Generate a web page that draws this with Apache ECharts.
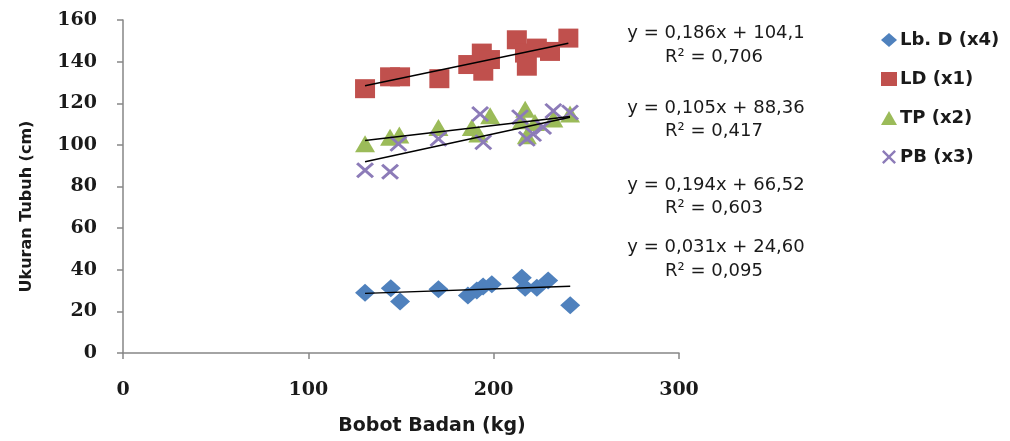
<!DOCTYPE html>
<html>
<head>
<meta charset="utf-8">
<script src="https://cdn.jsdelivr.net/npm/echarts@6/dist/echarts.min.js"></script>
<style>
  html, body { margin: 0; background: #fff; }
  #chart { width: 1010px; height: 441px; }
</style>
</head>
<body>
<div id="chart"></div>
<script>
// series names (legend order)
const seriesNames = ['Lb. D (x4)', 'LD (x1)', 'TP (x2)', 'PB (x3)'];

// Lb. D (x4)
const lbdX = [130.6, 144.5, 149.5, 170.2, 186.1, 190.9, 194.3, 199.0, 215.2, 217.0, 223.3, 229.4, 241.3];
const lbdY = [29.0, 31.1, 24.8, 30.6, 27.6, 30.0, 31.9, 33.0, 36.2, 31.4, 31.4, 34.8, 22.9];

// LD (x1)
const ldX = [130.6, 144.1, 149.5, 170.7, 186.3, 193.6, 194.4, 198.0, 212.5, 216.9, 217.9, 223.3, 230.4, 240.3];
const ldY = [127.0, 132.7, 132.7, 131.8, 138.6, 144.1, 135.4, 141.0, 150.5, 144.1, 137.8, 146.5, 144.9, 151.3];

// TP (x2)
const tpX = [130.6, 144.1, 149.1, 170.2, 188.2, 191.7, 198.1, 217.0, 215.2, 217.9, 222.3, 232.2, 241.2];
const tpY = [100.5, 103.7, 104.8, 108.4, 108.4, 105.2, 114.0, 117.1, 111.6, 104.4, 110.8, 112.4, 114.8];

// PB (x3)
const pbX = [130.6, 144.1, 148.6, 170.2, 192.7, 194.4, 214.2, 217.9, 221.3, 226.7, 232.2, 241.2];
const pbY = [87.8, 87.1, 100.5, 102.9, 114.8, 101.3, 113.3, 102.9, 105.2, 108.6, 116.3, 115.6];

// trend line coefficients (same order as seriesNames)
const slopes = [0.031, 0.186, 0.105, 0.194];
const intercepts = [24.60, 104.1, 88.36, 66.52];

// equation labels, top to bottom as shown
const eqLabels = ['y = 0,186x + 104,1', 'y = 0,105x + 88,36', 'y = 0,194x + 66,52', 'y = 0,031x + 24,60'];
const r2Labels = ['R² = 0,706', 'R² = 0,417', 'R² = 0,603', 'R² = 0,095'];

const xTicks = [0, 100, 200, 300];
const yTicks = [0, 20, 40, 60, 80, 100, 120, 140, 160];

const colors = ['#4F81BD', '#C0504D', '#9BBB59', '#8C7BB8'];
const xMark = 'path://M0,1.2L1.2,0L5,3.8L8.8,0L10,1.2L6.2,5L10,8.8L8.8,10L5,6.2L1.2,10L0,8.8L3.8,5Z';
const symbols = ['diamond', 'rect', 'triangle', xMark];
const symbolSizes = [[20, 18], [20, 19], [20, 17], [18, 16]];

const xs = [lbdX, ldX, tpX, pbX];
const ys = [lbdY, ldY, tpY, pbY];

const pair = (a, b) => a.map((v, i) => [v, b[i]]);

const scatter = seriesNames.map((name, i) => ({
    name: name,
    type: 'scatter',
    data: pair(xs[i], ys[i]),
    symbol: symbols[i],
    symbolSize: symbolSizes[i],
    itemStyle: {color: colors[i], opacity: 1},
    z: 2
}));

const trends = seriesNames.map((name, i) => {
    const x0 = Math.min(...xs[i]);
    const x1 = Math.max(...xs[i]);
    return {
        name: 'trend' + i,
        type: 'line',
        data: [[x0, slopes[i] * x0 + intercepts[i]], [x1, slopes[i] * x1 + intercepts[i]]],
        symbol: 'none',
        lineStyle: {color: '#000', width: 1.5},
        silent: true,
        z: 3
    };
});

const eqTops = [[24, 48], [99, 122], [176, 199], [238, 262]];
const texts = [];
eqLabels.forEach((t, i) => {
    texts.push({type: 'text', x: 716, y: eqTops[i][0],
        style: {text: t, font: '18px "DejaVu Sans"', fill: '#1a1a1a', align: 'center', verticalAlign: 'top'}});
    texts.push({type: 'text', x: 714, y: eqTops[i][1],
        style: {text: r2Labels[i], font: '18px "DejaVu Sans"', fill: '#1a1a1a', align: 'center', verticalAlign: 'top'}});
});

const chart = echarts.init(document.getElementById('chart'));
chart.setOption({
    animation: false,
    backgroundColor: '#fff',
    grid: {left: 123, right: 331, top: 20, bottom: 85},
    legend: {
        orient: 'vertical',
        left: 876,
        top: 26,
        itemWidth: 16,
        itemHeight: 14,
        itemGap: 21,
        data: seriesNames.map((n, i) => ({name: n, icon: symbols[i]})),
        textStyle: {fontFamily: 'DejaVu Sans', fontWeight: 'bold', fontSize: 18, color: '#1a1a1a', padding: [0, 0, 0, -2]}
    },
    xAxis: {
        type: 'value',
        min: xTicks[0],
        max: xTicks[xTicks.length - 1],
        interval: 100,
        name: 'Bobot Badan (kg)',
        nameLocation: 'middle',
        nameGap: 64,
        nameTextStyle: {fontFamily: 'DejaVu Sans', fontWeight: 'bold', fontSize: 19, color: '#1a1a1a', padding: [0, 0, 0, 62]},
        splitLine: {show: false},
        axisLine: {show: true, lineStyle: {color: '#868686', width: 1.5}},
        axisTick: {show: true, length: 6, lineStyle: {color: '#868686', width: 1.5}},
        axisLabel: {fontFamily: 'DejaVu Serif', fontWeight: 'bold', fontSize: 19, color: '#1a1a1a', margin: 28}
    },
    yAxis: {
        type: 'value',
        min: yTicks[0],
        max: yTicks[yTicks.length - 1],
        interval: 20,
        name: 'Ukuran Tubuh (cm)',
        nameLocation: 'middle',
        nameGap: 88,
        nameTextStyle: {fontFamily: 'DejaVu Sans', fontWeight: 'bold', fontSize: 16, color: '#1a1a1a', padding: [0, 40, 0, 0]},
        splitLine: {show: false},
        axisLine: {show: true, lineStyle: {color: '#868686', width: 1.5}},
        axisTick: {show: true, length: 6, lineStyle: {color: '#868686', width: 1.5}},
        axisLabel: {fontFamily: 'DejaVu Serif', fontWeight: 'bold', fontSize: 19, color: '#1a1a1a', margin: 26}
    },
    graphic: texts,
    series: scatter.concat(trends)
});
</script>
</body>
</html>
